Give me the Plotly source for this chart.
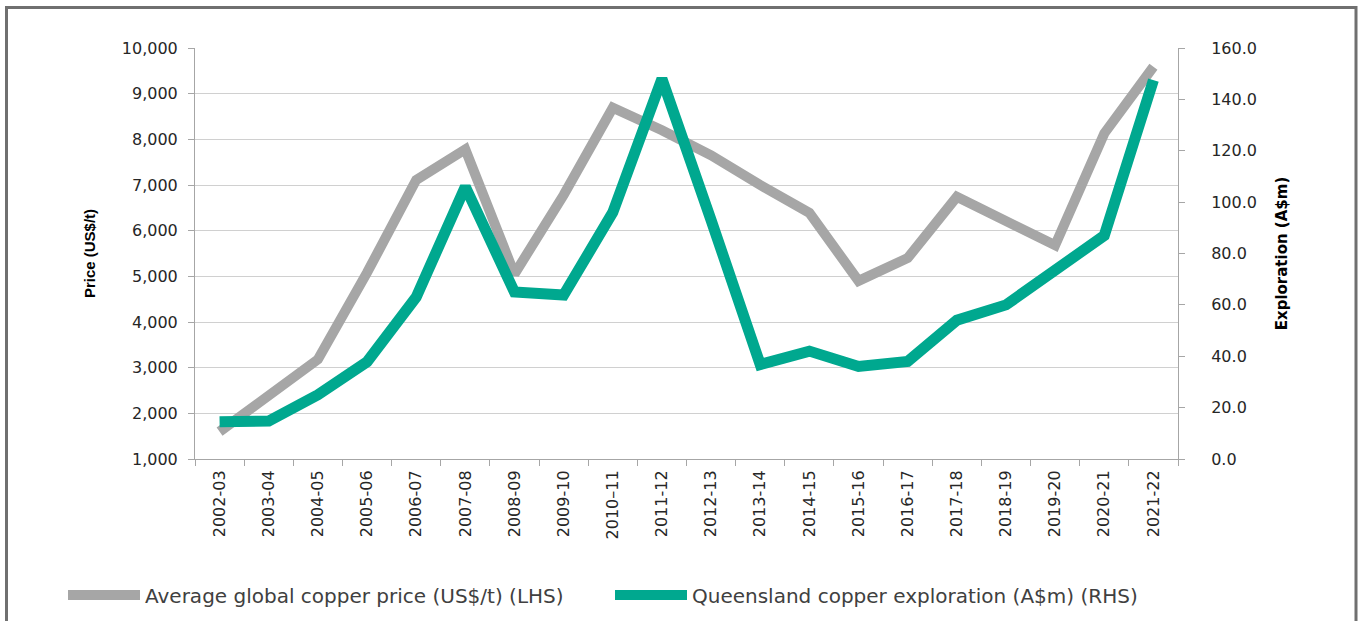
import plotly.graph_objects as go

years = ["2002-03", "2003-04", "2004-05", "2005-06", "2006-07", "2007-08", "2008-09",
         "2009-10", "2010\u201311", "2011-12", "2012-13", "2013-14", "2014-15", "2015-16",
         "2016-17", "2017-18", "2018-19", "2019-20", "2020-21", "2021-22"]
copper_price = [1600, 2420, 3180, 5080, 7110, 7780, 5050, 6780, 8690, 8200,
                7650, 7000, 6390, 4900, 5400, 6740, 6220, 5680, 8130, 9590]
qld_exploration = [14.5, 14.8, 25.0, 37.8, 63.0, 106.0, 65.0, 63.8, 96.0, 148.0,
                   93.0, 36.8, 42.0, 36.0, 38.0, 54.0, 60.0, 73.0, 87.0, 147.5]

left_ticks = [1000, 2000, 3000, 4000, 5000, 6000, 7000, 8000, 9000, 10000]
right_ticks = [0, 20, 40, 60, 80, 100, 120, 140, 160]

FONT = "'DejaVu Sans', sans-serif"
W, H = 1360, 621
L, R, T, B = 195, 182, 48, 162
pw, ph = W - L - R, H - T - B

fig = go.Figure()
fig.add_trace(go.Scatter(
    x=years, y=copper_price, mode="lines",
    name="Average global copper price (US$/t) (LHS)",
    line=dict(color="#a6a6a6", width=10),
    yaxis="y"))
fig.add_trace(go.Scatter(
    x=years, y=qld_exploration, mode="lines",
    name="Queensland copper exploration (A$m) (RHS)",
    line=dict(color="#00a88f", width=11),
    yaxis="y2"))

tickfont = dict(family=FONT, size=16, color="#262626")

fig.update_layout(
    width=W, height=H,
    margin=dict(l=L, r=R, t=T, b=B, pad=0, autoexpand=False),
    paper_bgcolor="white", plot_bgcolor="white",
    font=dict(family=FONT, size=16, color="#262626"),
    showlegend=True,
    legend=dict(orientation="h", xref="paper", x=(63 - L) / pw, xanchor="left",
                yref="paper", y=(H - B - 595) / ph, yanchor="middle",
                font=dict(family=FONT, size=20, color="#404040"),
                itemwidth=72, entrywidth=460, tracegroupgap=0),
    xaxis=dict(type="category", tickangle=-90, showgrid=False,
               showline=True, linecolor="#a6a6a6", linewidth=1,
               ticks="outside", ticklen=6, tickcolor="#a6a6a6",
               tickson="boundaries", ticklabelstandoff=4,
               tickfont=tickfont,
               range=[-0.5, len(years) - 0.5]),
    yaxis=dict(range=[1000, 10000], tickvals=left_ticks,
               ticktext=[f"{v:,}" for v in left_ticks],
               showgrid=True, gridcolor="#d0d0d0", gridwidth=1,
               showline=True, linecolor="#a6a6a6", linewidth=1,
               ticks="outside", ticklen=6, tickcolor="#a6a6a6",
               ticklabelstandoff=7,
               tickfont=tickfont,
               zeroline=False,
               title=dict(text="<b>Price (US$/t)</b>", standoff=22,
                          font=dict(family="'Liberation Sans', Arial, sans-serif",
                                    size=15, color="#000000"))),
    yaxis2=dict(range=[0, 160], tickvals=right_ticks,
                ticktext=[f"{v:.1f}" for v in right_ticks],
                overlaying="y", side="right", showgrid=False,
                showline=True, linecolor="#a6a6a6", linewidth=1,
                ticks="outside", ticklen=6, tickcolor="#a6a6a6",
                ticklabelstandoff=23,
                tickfont=tickfont,
                zeroline=False,
                title=dict(text="<b>Exploration (A$m)</b>", standoff=20,
                           font=dict(family=FONT, size=15, color="#000000"))),
)

# outer frame
fig.add_shape(type="rect", xref="paper", yref="paper",
              x0=(6.5 - L) / pw, x1=(1356 - L) / pw,
              y0=(H - B - 660) / ph, y1=(H - B - 7.5) / ph,
              line=dict(color="#707070", width=3), fillcolor="rgba(0,0,0,0)",
              layer="above")

fig.write_html("out.html", config={"displayModeBar": False},
               post_script="document.body.style.margin='0';")
